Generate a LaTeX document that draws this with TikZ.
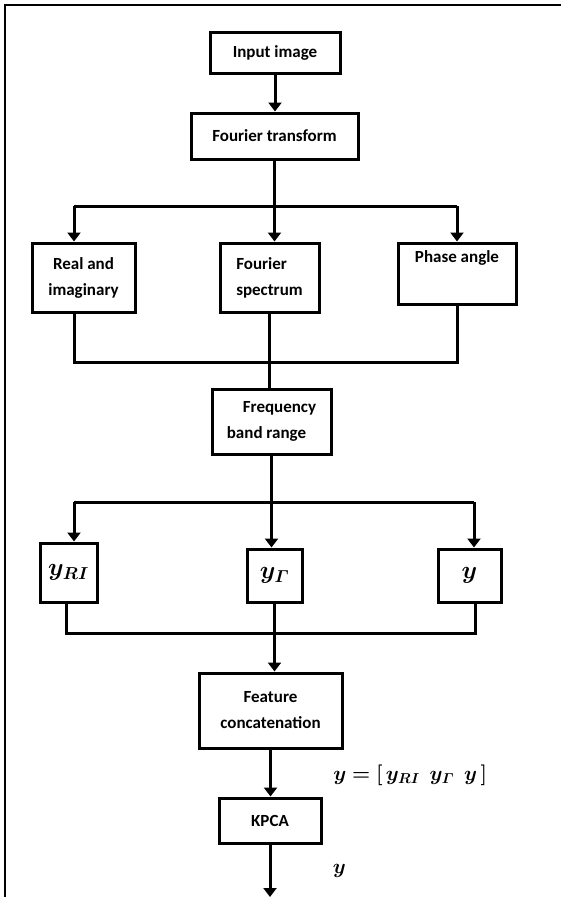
\documentclass[tikz,border=0pt]{standalone}
\usepackage{amsmath}
\usepackage{bm}
\usepackage{fontspec}
\setmainfont{Carlito}
\usetikzlibrary{positioning, calc, arrows.meta}

\begin{document}
\begin{tikzpicture}[x=1pt, y=-1pt,
    box/.style={draw, line width=3pt, align=center, inner sep=0pt,
      font=\fontsize{17}{26}\selectfont\bfseries},
    mbox/.style={draw, line width=3pt, inner sep=0pt,
      font=\fontsize{25}{28}\selectfont},
    wire/.style={line width=3pt},
    arr/.style={wire, -{Triangle[width=13pt,length=9pt]}}]
  \useasboundingbox (0,0) rectangle (560,897);
  % frame
  \draw[line width=1.6pt] (575,5) -- (5,5) -- (5,910);

  % boxes
  \node[box, minimum width=130, minimum height=41] (in) at (275,52.5) {Input image};
  \node[box, minimum width=167, minimum height=46] (ft) at (274.5,136) {Fourier transform};
  \node[box, minimum width=103, minimum height=69] (ri) at (83.5,277.5) {Real and\\imaginary};
  \node[box, minimum width=99, minimum height=69, align=left] (fs) at (269.5,277.5) {Fourier\\spectrum};
  \node[box, minimum width=118, minimum height=61] (pa) at (457,273.5) {Phase angle\\\strut};
  \node[box, minimum width=119, minimum height=65, align=left] (fb) at (271.5,421.5) {\hspace{16pt}Frequency\\band range};
  \node[mbox, minimum width=57, minimum height=59] (yri) at (68.5,572.5) {$\bm{y}_{\bm{RI}}$};
  \node[mbox, minimum width=55, minimum height=53] (yg) at (274.5,575.5) {$\bm{y}_{\bm{\varGamma}}$};
  \node[mbox, minimum width=63, minimum height=53] (yy) at (469.5,575.5) {$\bm{y}$};
  \node[box, minimum width=143, minimum height=75] (fc) at (270.5,710.5) {Feature\\concatenation};
  \node[box, minimum width=102, minimum height=45] (kp) at (270,820.5) {KPCA};

  % bus corners
  \coordinate (s1) at (74,206);  \coordinate (s2) at (457,206);
  \coordinate (m1) at (74,362);  \coordinate (m2) at (457,362);
  \coordinate (s3) at (74,502);  \coordinate (s4) at (474,502);
  \coordinate (m3) at (66,633);  \coordinate (m4) at (475,633);
  \coordinate (out) at (270,897);

  % connectors
  \draw[arr] (in.south) -- (in.south |- ft.north);
  \draw[arr] (ft.south) -- (ft.south |- fs.north);
  \draw[wire] (s1) -- (s2);
  \draw[arr] (s1) -- (s1 |- ri.north);
  \draw[arr] (s2) -- (s2 |- pa.north);
  \draw[wire] (s1 |- ri.south) -- (m1) -- (m2) -- (s2 |- pa.south);
  \draw[wire] (fs.south) -- (fs.south |- fb.north);
  \draw[arr] (fb.south) -- (fb.south |- yg.north);
  \draw[wire] (s3) -- (s4);
  \draw[arr] (s3) -- (s3 |- yri.north);
  \draw[arr] (s4) -- (s4 |- yy.north);
  \draw[wire] (m3 |- yri.south) -- (m3) -- (m4) -- (m4 |- yy.south);
  \draw[arr] (yg.south) -- (yg.south |- fc.north);
  \draw[arr] (fc.south) -- (fc.south |- kp.north)
    node[pos=0.55, right=58pt, font=\fontsize{22}{24}\selectfont]
    {$\bm{y = [\, y_{RI}\ \ y_{\varGamma}\ \ y \,]}$};
  \draw[arr] (kp.south) -- (out)
    node[pos=0.5, right=58pt, font=\fontsize{22}{24}\selectfont] {$\bm{y}$};
\end{tikzpicture}
\end{document}
